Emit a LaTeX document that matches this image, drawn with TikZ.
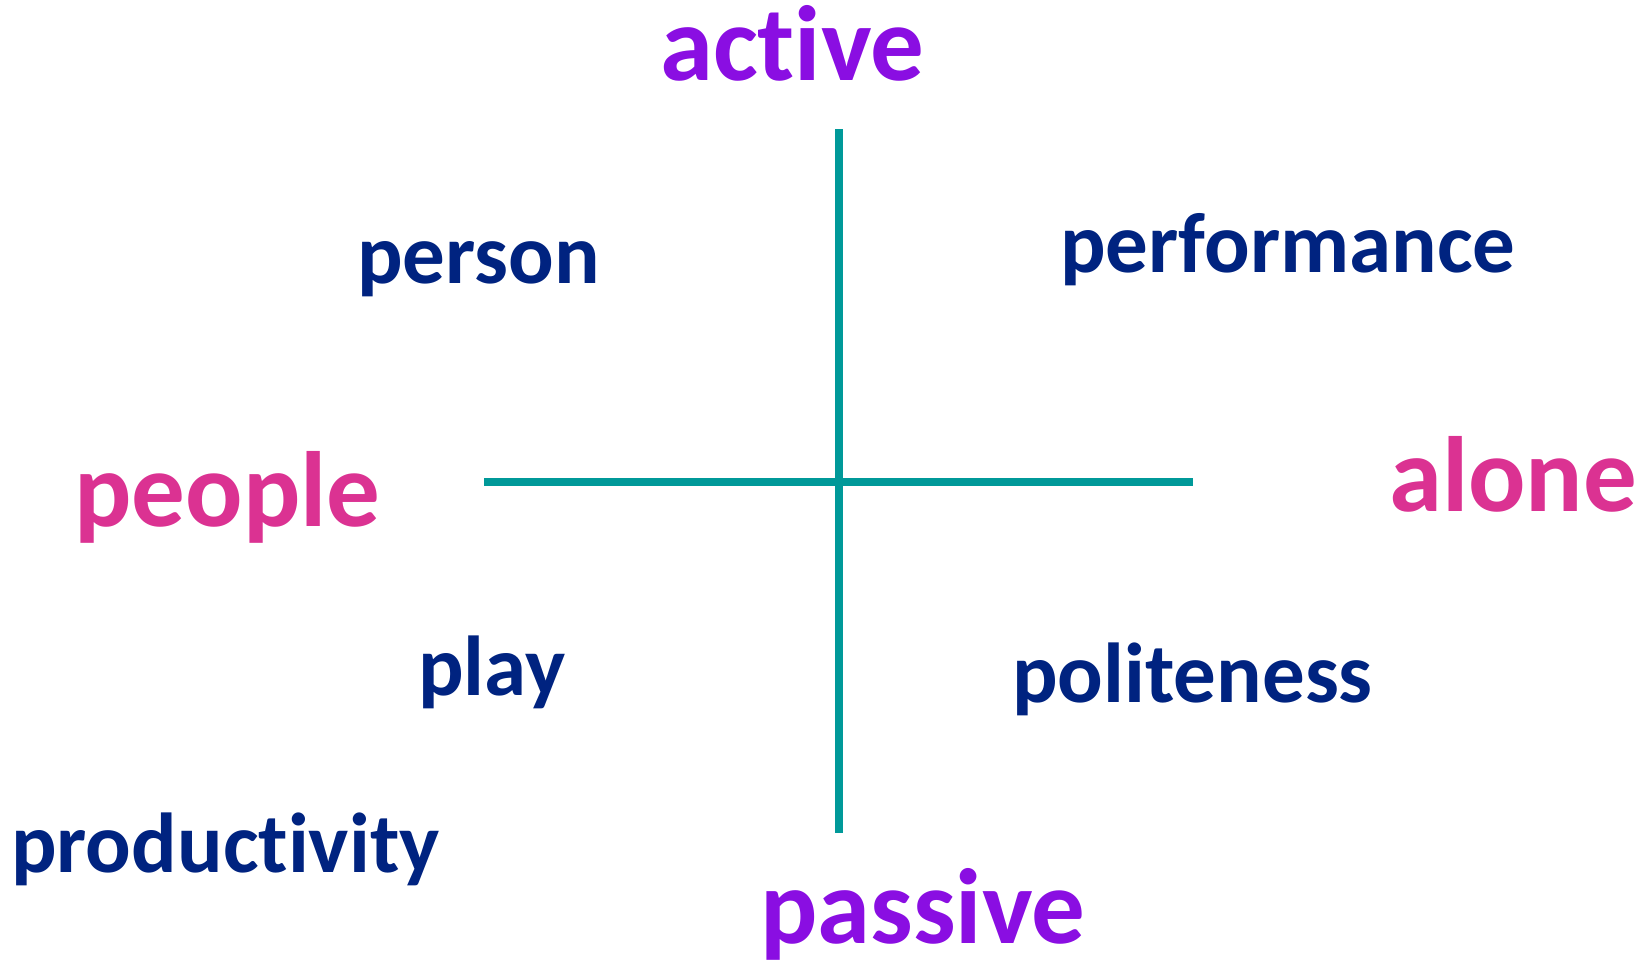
\documentclass[tikz,border=0pt]{standalone}
\usepackage{fontspec}
\setmainfont{Carlito}[Ligatures=NoCommon,RawFeature={-liga;-clig;-dlig}]
\definecolor{axispurple}{RGB}{138,14,226}
\definecolor{axispink}{RGB}{219,50,146}
\definecolor{wordnavy}{RGB}{0,35,128}
\definecolor{lineteal}{RGB}{0,153,153}
\tikzset{
  bigword/.style={inner sep=0pt, anchor=base west, font=\bfseries\fontsize{107}{117}\selectfont},
  smallword/.style={inner sep=0pt, anchor=base west, text=wordnavy, font=\bfseries\fontsize{85}{100}\selectfont},
  axisline/.style={draw=lineteal, line width=7.5pt},
}
\begin{document}
\begin{tikzpicture}[x=1pt,y=-1pt]
\useasboundingbox (0,0) rectangle (1650,959);
\coordinate (vtop) at (839,129);
\coordinate (vbot) at (839,833);
\coordinate (hleft) at (484,482);
\coordinate (hright) at (1193,482);
\draw[axisline] (vtop) -- (vbot);
\draw[axisline] (hleft) -- (hright);
\node[bigword, text=axispurple] (active) at (660,80) {active};
\node[bigword, text=axispurple] (passive) at (760,943) {passive};
\node[bigword, text=axispink] (people) at (74,526) {people};
\node[bigword, text=axispink] (alone) at (1389,511) {alone};
\node[smallword] (person) at (357,283) {person};
\node[smallword] (performance) at (1060,272) {performance};
\node[smallword] (play) at (418,695) {play};
\node[smallword] (politeness) at (1012,702) {politeness};
\node[smallword] (productivity) at (11,872) {productivity};
\end{tikzpicture}
\end{document}
